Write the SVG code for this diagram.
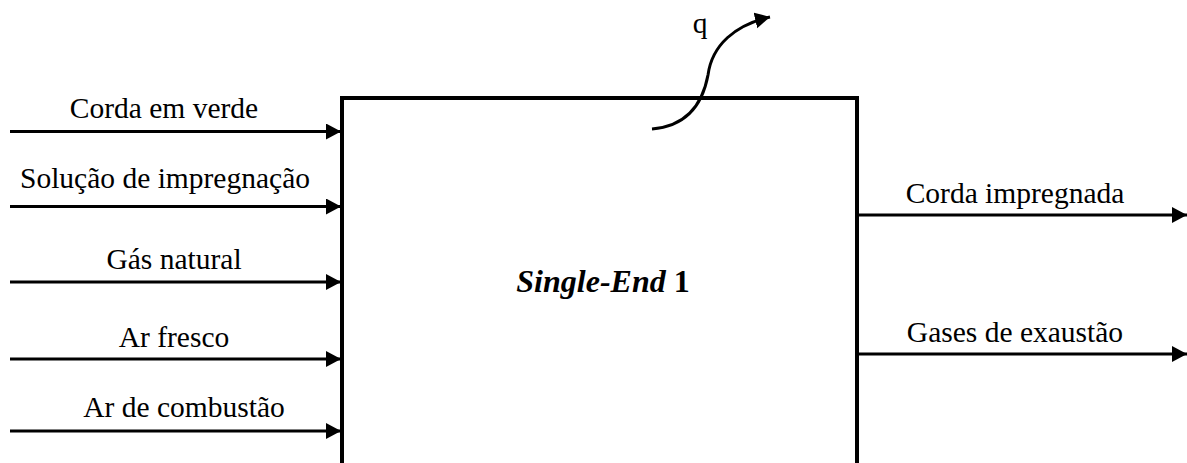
<svg xmlns="http://www.w3.org/2000/svg" width="1187" height="463" viewBox="0 0 1187 463">
<style>
.t{font-family:"Liberation Serif","Times New Roman",serif;font-size:29.5px;fill:#000}
.c{stroke:#000;stroke-width:3;fill:none}
</style>
<defs>
<marker id="ah" markerUnits="userSpaceOnUse" markerWidth="16" markerHeight="18" refX="15" refY="8" orient="auto">
<path d="M0,0 L15,8 L0,16 Z" fill="#000"/>
</marker>
</defs>
<rect width="1187" height="463" fill="#fff"/>
<g id="box">
<rect x="342" y="98" width="515" height="380" fill="none" stroke="#000" stroke-width="4"/>
<text class="t" x="603" y="292" text-anchor="middle" font-weight="bold" style="font-size:32px"><tspan font-style="italic">Single-End</tspan> 1</text>
</g>
<g id="connectors">
<line class="c" x1="10" y1="131.5" x2="341" y2="131.5" marker-end="url(#ah)"/>
<line class="c" x1="10" y1="206.5" x2="341" y2="206.5" marker-end="url(#ah)"/>
<line class="c" x1="10" y1="282" x2="341" y2="282" marker-end="url(#ah)"/>
<line class="c" x1="10" y1="359" x2="341" y2="359" marker-end="url(#ah)"/>
<line class="c" x1="10" y1="431" x2="341" y2="431" marker-end="url(#ah)"/>
<line class="c" x1="857" y1="215" x2="1187" y2="215" marker-end="url(#ah)"/>
<line class="c" x1="857" y1="354" x2="1187" y2="354" marker-end="url(#ah)"/>
<path class="c" d="M652,129 C688,126 703,102 708,75 C712,45 735,25 770,17" marker-end="url(#ah)"/>
</g>
<g id="labels">
<text class="t" x="164" y="118" text-anchor="middle">Corda em verde</text>
<text class="t" x="165" y="188" text-anchor="middle">Solução de impregnação</text>
<text class="t" x="174" y="269" text-anchor="middle">Gás natural</text>
<text class="t" x="174" y="347" text-anchor="middle">Ar fresco</text>
<text class="t" x="184" y="417" text-anchor="middle">Ar de combustão</text>
<text class="t" x="1015" y="203" text-anchor="middle">Corda impregnada</text>
<text class="t" x="1015" y="342" text-anchor="middle">Gases de exaustão</text>
<text class="t" x="700" y="33" text-anchor="middle">q</text>
</g>
</svg>
